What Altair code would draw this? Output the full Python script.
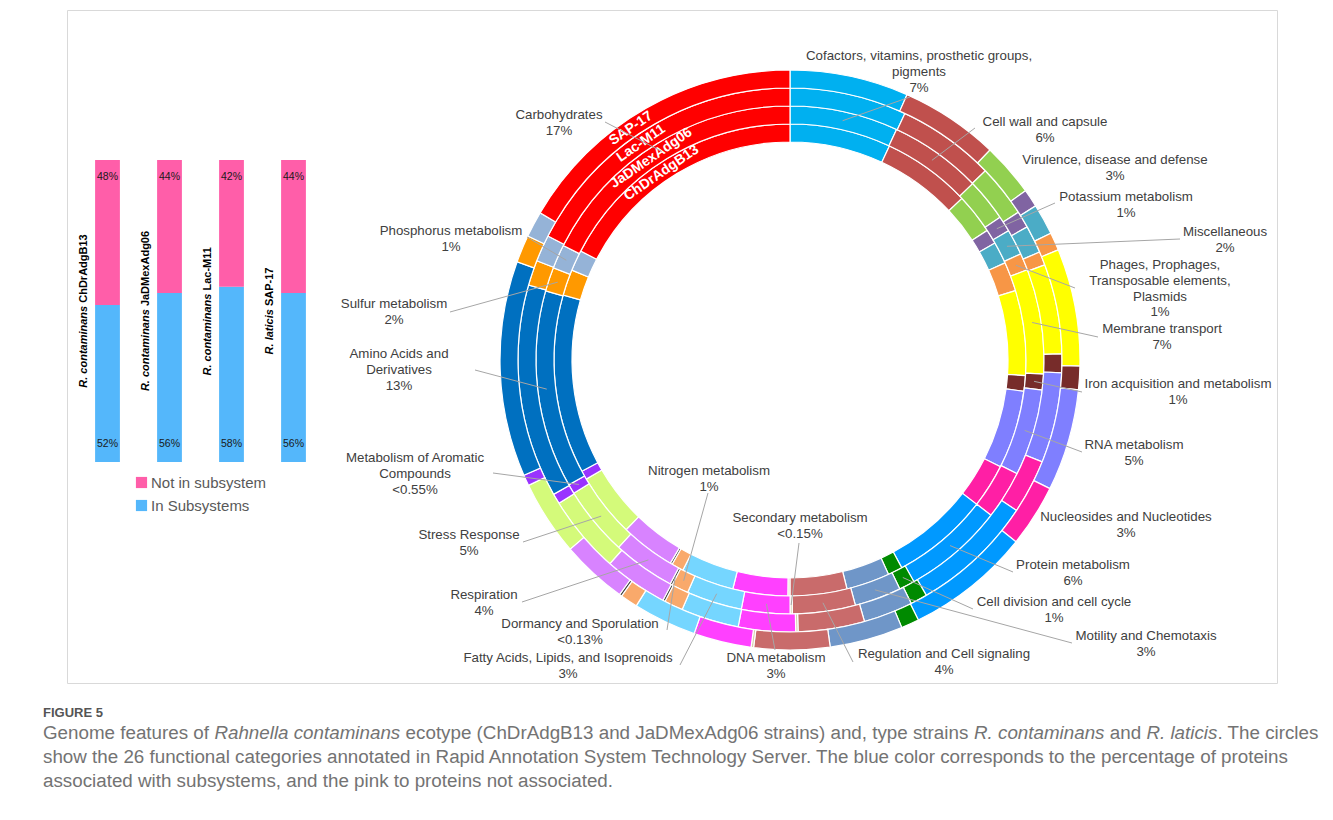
import math
import altair as alt
import pandas as pd

# ------------------------------------------------------------------ data
strains = ["R. contaminans ChDrAdgB13", "R. contaminans JaDMexAdg06",
           "R. contaminans Lac-M11", "R. laticis SAP-17"]
species = ["R. contaminans", "R. contaminans", "R. contaminans", "R. laticis"]
strain_ids = ["ChDrAdgB13", "JaDMexAdg06", "Lac-M11", "SAP-17"]
in_subsystems = [52, 56, 58, 56]
not_in_subsystem = [48, 44, 42, 44]
bar_groups = ["Not in subsystem", "In Subsystems"]
bar_colors = ["#FF5EA9", "#54B7FB"]

categories = [
    "Cofactors, vitamins, prosthetic groups, pigments", "Cell wall and capsule",
    "Virulence, disease and defense", "Potassium metabolism", "Miscellaneous",
    "Phages, Prophages, Transposable elements, Plasmids", "Membrane transport",
    "Iron acquisition and metabolism", "RNA metabolism", "Nucleosides and Nucleotides",
    "Protein metabolism", "Cell division and cell cycle", "Motility and Chemotaxis",
    "Regulation and Cell signaling", "Secondary metabolism", "DNA metabolism",
    "Fatty Acids, Lipids, and Isoprenoids", "Nitrogen metabolism",
    "Dormancy and Sporulation", "Respiration", "Stress Response",
    "Metabolism of Aromatic Compounds", "Amino Acids and Derivatives",
    "Sulfur metabolism", "Phosphorus metabolism", "Carbohydrates"]
label_pct = ["7%", "6%", "3%", "1%", "2%", "1%", "7%", "1%", "5%", "3%", "6%", "1%",
             "3%", "4%", "<0.15%", "3%", "3%", "1%", "<0.13%", "4%", "5%", "<0.55%",
             "13%", "2%", "1%", "17%"]
cat_colors = ["#00B0F0", "#C0504D", "#92D050", "#8064A2", "#4BACC6", "#F79646",
              "#FFFF00", "#772C2A", "#7F7FFF", "#FF1FA5", "#0099FF", "#008A00",
              "#6F96C8", "#C96B6B", "#D6CFAE", "#FF40FF", "#75D6FF", "#F9A96B",
              "#404040", "#D883FF", "#D4FA7A", "#9933FF", "#0070C0", "#FF9900",
              "#95B3D7", "#FF0000"]

# rings from inner to outer
ring_names = ["ChDrAdgB13", "JaDMexAdg06", "Lac-M11", "SAP-17"]
pct_ChDrAdgB13 = [6.92, 6.08, 2.75, 1.00, 1.50, 2.00, 5.81, 1.06, 5.36, 3.00, 6.67, 1.00,
                  2.97, 3.89, 0.14, 3.75, 3.61, 0.83, 0.14, 3.75, 4.36, 0.61, 12.25,
                  1.78, 1.42, 17.36]
pct_JaDMexAdg06 = [6.89, 5.89, 2.72, 1.00, 1.64, 1.08, 6.67, 1.00, 5.50, 3.08, 6.42, 1.00,
                   2.97, 4.00, 0.14, 3.08, 3.53, 1.08, 0.14, 3.97, 4.42, 0.61, 12.56,
                   1.53, 1.53, 17.56]
pct_LacM11 = [6.94, 5.81, 3.11, 1.00, 1.64, 0.81, 5.33, 1.11, 5.36, 3.22, 7.31, 1.00,
              2.94, 3.94, 0.14, 3.39, 3.44, 1.11, 0.14, 3.78, 4.64, 0.61, 12.67,
              1.50, 1.58, 17.47]
pct_SAP17 = [6.61, 5.50, 2.97, 1.00, 1.72, 1.00, 6.53, 1.31, 5.67, 3.47, 6.92, 1.00,
             4.08, 4.22, 0.14, 3.22, 3.53, 0.97, 0.14, 3.69, 4.19, 0.61, 12.00,
             1.53, 1.44, 16.53]
ring_values = [pct_ChDrAdgB13, pct_JaDMexAdg06, pct_LacM11, pct_SAP17]

# ------------------------------------------------------------------ layout (annotation placement)
label_lines = [
    ["Cofactors, vitamins, prosthetic groups,", "pigments"], ["Cell wall and capsule"],
    ["Virulence, disease and defense"], ["Potassium metabolism"], ["Miscellaneous"],
    ["Phages, Prophages,", "Transposable elements,", "Plasmids"], ["Membrane transport"],
    ["Iron acquisition and metabolism"], ["RNA metabolism"], ["Nucleosides and Nucleotides"],
    ["Protein metabolism"], ["Cell division and cell cycle"], ["Motility and Chemotaxis"],
    ["Regulation and Cell signaling"], ["Secondary metabolism"], ["DNA metabolism"],
    ["Fatty Acids, Lipids, and Isoprenoids"], ["Nitrogen metabolism"],
    ["Dormancy and Sporulation"], ["Respiration"], ["Stress Response"],
    ["Metabolism of Aromatic", "Compounds"], ["Amino Acids and", "Derivatives"],
    ["Sulfur metabolism"], ["Phosphorus metabolism"], ["Carbohydrates"]]
# label block (centre x, first line centre y), px offsets from donut centre
label_pos = [(129, -304), (255, -238), (325, -200), (336, -163), (435, -128), (370, -95),
             (372, -31), (388, 24), (344, 85), (336, 157), (283, 205), (264, 242),
             (356, 276), (154, 294), (10, 158), (-14, 298), (-222, 298), (-81, 111),
             (-210, 264), (-306, 235), (-321, 175), (-375, 98), (-391, -6), (-396, -56),
             (-339, -129), (-231, -245)]
leader_end = [(120, -263), (185, -232), None, (265, -157), (390, -121), (285, -72),
              (308, -23), (292, 32), (292, 92), None, (223, 212), (183, 249), (282, 283),
              (63, 302), (9, 183), (-15, 290), (-110, 305), (-82, 133), (-123, 270),
              (-268, 242), (-267, 182), (-297, 113), (-315, 10), (-340, -48),
              (-263, -123), (-185, -238)]
LINE_H = 15.8

W, H = 1210, 673
CX, CY = 723, 350          # donut centre inside the frame
R_IN, R_OUT = 218, 290
R2_MID = R_IN + (R_OUT - R_IN) * 1.5 / 4

# Arial / Liberation Sans advance widths (1/1000 em)
REG = dict(zip("abcdefghijklmnopqrstuvwxyz",
               [556, 556, 500, 556, 556, 278, 556, 556, 222, 222, 500, 222, 833, 556, 556,
                556, 556, 333, 500, 278, 556, 500, 722, 500, 500, 500]))
REG.update(zip("ABCDEFGHIJKLMNOPQRSTUVWXYZ",
               [667, 667, 722, 722, 667, 611, 778, 722, 278, 500, 667, 556, 833, 722, 778,
                667, 778, 722, 667, 611, 722, 667, 944, 667, 667, 611]))
REG.update({d: 556 for d in "0123456789"})
REG.update({" ": 278, ".": 278, ",": 278, "(": 333, ")": 333, "-": 333, "%": 889,
            "<": 584, ":": 278})
BOLD = dict(zip("abcdefghijklmnopqrstuvwxyz",
                [556, 611, 556, 611, 556, 333, 611, 611, 278, 278, 556, 278, 889, 611, 611,
                 611, 611, 389, 556, 333, 611, 556, 778, 556, 556, 500]))
BOLD.update(zip("ABCDEFGHIJKLMNOPQRSTUVWXYZ",
                [722, 722, 722, 722, 667, 611, 778, 722, 278, 556, 722, 611, 833, 722, 778,
                 667, 778, 722, 667, 611, 722, 667, 944, 667, 667, 611]))
BOLD.update({d: 556 for d in "0123456789"})
BOLD.update({" ": 278, ".": 278, ",": 278, "-": 333, "%": 889})


def tw(s, fs, table=REG):
    return sum(table.get(c, 556) for c in s) * fs / 1000.0


FONT = "Liberation Sans"

# ------------------------------------------------------------------ bars
bar_long = pd.DataFrame(
    [{"strain": s, "group": bar_groups[1], "value": v, "ord": 0, "yl": 0}
     for s, v in zip(strains, in_subsystems)] +
    [{"strain": s, "group": bar_groups[0], "value": v, "ord": 1, "yl": 100}
     for s, v in zip(strains, not_in_subsystem)])
bar_long["label"] = bar_long["value"].astype(str) + "%"

BAR_TOP, BAR_BOT = 150, 452
px_unit = (BAR_BOT - BAR_TOP) / 100.0
bx = alt.Scale(domain=strains, range=[9.5, 257.5], paddingInner=0.6, paddingOuter=0.3)
by = alt.Scale(domain=[0, 100], range=[BAR_BOT, BAR_TOP], nice=False, zero=False)

bar_rect = alt.Chart(bar_long).mark_bar().encode(
    x=alt.X("strain:N", scale=bx, axis=None, sort=strains),
    y=alt.Y("value:Q", scale=by, axis=None, stack="zero"),
    order=alt.Order("ord:Q"),
    color=alt.Color("group:N", scale=alt.Scale(domain=bar_groups, range=bar_colors),
                    legend=alt.Legend(title=None, orient="none", legendX=67, legendY=465,
                                      symbolType="square", symbolSize=125,
                                      symbolStrokeWidth=0, labelFont=FONT,
                                      labelFontSize=15, labelColor="#595959",
                                      rowPadding=7, labelOffset=2)),
)
pct_top = alt.Chart(bar_long).transform_filter("datum.ord == 1").mark_text(
    font=FONT, fontSize=10.5, color="#1a1a1a", baseline="middle", dy=17).encode(
    x=alt.X("strain:N", scale=bx, axis=None, sort=strains),
    y=alt.Y("yl:Q", scale=by, axis=None), text="label:N")
pct_bot = alt.Chart(bar_long).transform_filter("datum.ord == 0").mark_text(
    font=FONT, fontSize=10.5, color="#1a1a1a", baseline="middle", dy=-18).encode(
    x=alt.X("strain:N", scale=bx, axis=None, sort=strains),
    y=alt.Y("yl:Q", scale=by, axis=None), text="label:N")

FS_BAR = 11
blab = []
for s, sp, sid in zip(strains, species, strain_ids):
    w_it = tw(sp, FS_BAR, BOLD)
    w_sp = tw(" ", FS_BAR, BOLD)
    w_n = tw(sid, FS_BAR, BOLD)
    start = 50 - (w_it + w_sp + w_n) / 2 / px_unit
    blab.append({"strain": s, "text": sp, "yv": start, "part": "it"})
    blab.append({"strain": s, "text": sid, "yv": start + (w_it + w_sp) / px_unit, "part": "n"})
blab = pd.DataFrame(blab)
lab_it = alt.Chart(blab).transform_filter("datum.part == 'it'").mark_text(
    font=FONT, fontSize=FS_BAR, fontWeight="bold", fontStyle="italic", color="#000000",
    angle=270, align="left", baseline="middle", dy=-24).encode(
    x=alt.X("strain:N", scale=bx, axis=None, sort=strains),
    y=alt.Y("yv:Q", scale=by, axis=None), text="text:N")
lab_n = alt.Chart(blab).transform_filter("datum.part == 'n'").mark_text(
    font=FONT, fontSize=FS_BAR, fontWeight="bold", color="#000000",
    angle=270, align="left", baseline="middle", dy=-24).encode(
    x=alt.X("strain:N", scale=bx, axis=None, sort=strains),
    y=alt.Y("yv:Q", scale=by, axis=None), text="text:N")

bars = alt.layer(bar_rect, pct_top, pct_bot, lab_it, lab_n)

# ------------------------------------------------------------------ donut
seg = []
for ri, vals in enumerate(ring_values):
    for ci, (c, v) in enumerate(zip(categories, vals)):
        seg.append({"ring": ri + 1, "ring_name": ring_names[ri], "category": c,
                    "order": ci, "pct": v, "r_out": ri + 1, "r_in": ri, "cx": 0, "cy": 0})
seg = pd.DataFrame(seg)

xs = alt.Scale(domain=[-CX, W - CX], range=[0, W], nice=False, zero=False)
ys = alt.Scale(domain=[-CY, H - CY], range=[0, H], nice=False, zero=False)
rs = alt.Scale(type="linear", domain=[0, 4], range=[R_IN, R_OUT], zero=False, nice=False)
ts = alt.Scale(domain=[0, 1], range=[0, 2 * math.pi])

arcs = alt.Chart(seg).transform_stack(
    stack="pct", groupby=["ring"], as_=["t0", "t1"], offset="normalize",
    sort=[alt.SortField("order", order="ascending")]
).mark_arc(stroke="white", strokeWidth=1.2).encode(
    x=alt.X("cx:Q", scale=xs, axis=None),
    y=alt.Y("cy:Q", scale=ys, axis=None),
    theta=alt.Theta("t0:Q", scale=ts),
    theta2="t1:Q",
    radius=alt.Radius("r_out:Q", scale=rs),
    radius2="r_in:Q",
    color=alt.Color("category:N", scale=alt.Scale(domain=categories, range=cat_colors),
                    legend=None),
)

RING_LABEL_ANGLE = 325.5
ring_lab = []
for ri, name in enumerate(ring_names):
    r = R_IN + (R_OUT - R_IN) * (ri + 0.5) / 4
    a = math.radians(RING_LABEL_ANGLE)
    ring_lab.append({"text": name, "x": r * math.sin(a), "y": -r * math.cos(a)})
ring_lab = pd.DataFrame(ring_lab)
ring_text = alt.Chart(ring_lab).mark_text(
    font=FONT, fontSize=14, fontWeight="bold", color="white", angle=RING_LABEL_ANGLE,
    align="center", baseline="middle").encode(
    x=alt.X("x:Q", scale=xs, axis=None), y=alt.Y("y:Q", scale=ys, axis=None), text="text:N")

leader_df = pd.DataFrame([{"category": c, "ex": e[0], "ey": e[1]}
                          for c, e in zip(categories, leader_end) if e is not None])
leaders = alt.Chart(seg).transform_filter("datum.ring == 2").transform_stack(
    stack="pct", groupby=["ring"], as_=["t0", "t1"], offset="normalize",
    sort=[alt.SortField("order", order="ascending")]
).transform_lookup(
    lookup="category", from_=alt.LookupData(leader_df, "category", ["ex", "ey"])
).transform_filter("isValid(datum.ex)").transform_calculate(
    ax=f"{R2_MID}*sin(PI*(datum.t0+datum.t1))",
    ay=f"-{R2_MID}*cos(PI*(datum.t0+datum.t1))"
).mark_rule(color="#a6a6a6", strokeWidth=1).encode(
    x=alt.X("ax:Q", scale=xs, axis=None), y=alt.Y("ay:Q", scale=ys, axis=None),
    x2="ex:Q", y2="ey:Q")

lab_rows = []
for c, lines, pct, (lx, ly) in zip(categories, label_lines, label_pct, label_pos):
    allines = lines + [pct]
    for i, t in enumerate(allines):
        lab_rows.append({"category": c, "text": t, "x": lx, "y": ly + i * LINE_H})
lab_rows = pd.DataFrame(lab_rows)
cat_text = alt.Chart(lab_rows).mark_text(
    font=FONT, fontSize=13.3, color="#404040", align="center", baseline="middle").encode(
    x=alt.X("x:Q", scale=xs, axis=None), y=alt.Y("y:Q", scale=ys, axis=None), text="text:N")

donut = alt.layer(arcs, ring_text, leaders, cat_text)

# ------------------------------------------------------------------ caption
FS_CAP = 18.8
cap_lines = [
    [("Genome features of ", False), ("Rahnella contaminans", True),
     (" ecotype (ChDrAdgB13 and JaDMexAdg06 strains) and, type strains ", False),
     ("R. contaminans", True), (" and ", False), ("R. laticis", True),
     (". The circles", False)],
    [("show the 26 functional categories annotated in Rapid Annotation System Technology "
      "Server. The blue color corresponds to the percentage of proteins", False)],
    [("associated with subsystems, and the pink to proteins not associated.", False)],
]
cap_rows = []
for li, runs in enumerate(cap_lines):
    xpos = 0.0
    for txt, it in runs:
        lead = len(txt) - len(txt.lstrip(" "))
        cap_rows.append({"x": -24 + xpos + tw(" " * lead, FS_CAP), "y": 729 + 24 * li,
                         "text": txt.strip(" "), "it": it})
        xpos += tw(txt, FS_CAP)
cap_rows = pd.DataFrame(cap_rows)
cap_norm = alt.Chart(cap_rows).transform_filter("!datum.it").mark_text(
    font=FONT, fontSize=FS_CAP, color="#737373", align="left", baseline="alphabetic").encode(
    x=alt.X("x:Q", scale=None, axis=None), y=alt.Y("y:Q", scale=None, axis=None), text="text:N")
cap_it = alt.Chart(cap_rows).transform_filter("datum.it").mark_text(
    font=FONT, fontSize=FS_CAP, fontStyle="italic", color="#737373", align="left",
    baseline="alphabetic").encode(
    x=alt.X("x:Q", scale=None, axis=None), y=alt.Y("y:Q", scale=None, axis=None), text="text:N")
fig_df = pd.DataFrame([{"x": -24, "y": 707, "text": "FIGURE 5"}])
fig_t = alt.Chart(fig_df).mark_text(
    font=FONT, fontSize=13, fontWeight="bold", color="#555555", align="left",
    baseline="alphabetic").encode(
    x=alt.X("x:Q", scale=None, axis=None), y=alt.Y("y:Q", scale=None, axis=None), text="text:N")

chart = alt.layer(bars, donut, cap_norm, cap_it, fig_t).resolve_scale(
    x="independent", y="independent", color="independent"
).properties(
    width=W, height=H,
    padding={"left": 59, "top": 2, "right": 48, "bottom": 135},
    autosize=alt.AutoSizeParams(type="none"),
).configure_view(stroke="#d9d9d9", strokeWidth=1)

chart.save("out.html", embed_options={"renderer": "svg", "actions": False})
